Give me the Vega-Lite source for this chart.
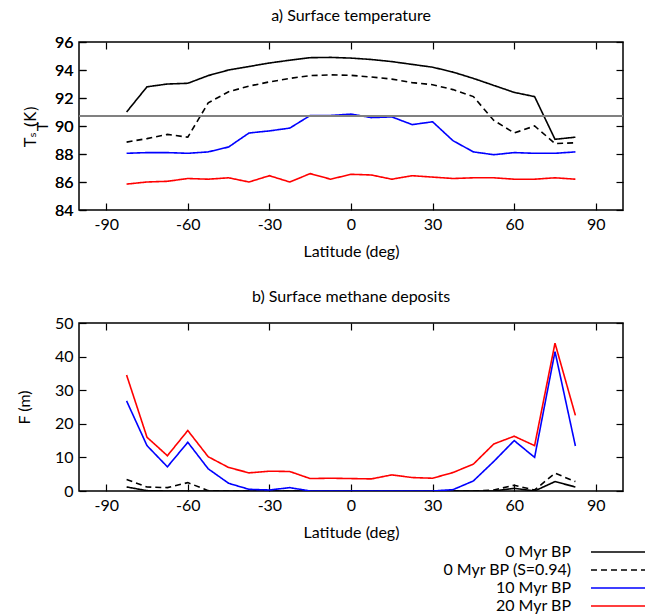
{
  "$schema": "https://vega.github.io/schema/vega-lite/v6.json",
  "background": "white",
  "padding": {"left": 15, "top": 7, "right": 0, "bottom": 0},
  "config": {
    "font": "Lato",
    "view": {"stroke": "black", "strokeWidth": 1.5},
    "axis": {"grid": false, "domain": false, "tickSize": -7, "tickColor": "black", "tickWidth": 1.2, "labelFontSize": 16, "labelColor": "black", "titleFontSize": 16, "titleFontWeight": "normal", "titleColor": "black", "labelPadding": 13, "labelExpr": "toString(datum.value)"},
    "title": {"fontSize": 16, "fontWeight": "normal", "anchor": "middle", "offset": 10},
    "legend": {"labelFont": "Lato"}
  },
  "resolve": {"legend": {"color": "independent", "strokeDash": "independent"}},
  "datasets": {
    "d": [
      {"lat": -82.5, "series": "0 Myr BP", "T": 91.0, "F": 1.2},
      {"lat": -75, "series": "0 Myr BP", "T": 92.8, "F": 0.1},
      {"lat": -67.5, "series": "0 Myr BP", "T": 93.0, "F": 0.0},
      {"lat": -60, "series": "0 Myr BP", "T": 93.05, "F": 0.0},
      {"lat": -52.5, "series": "0 Myr BP", "T": 93.6, "F": 0.0},
      {"lat": -45, "series": "0 Myr BP", "T": 94.0, "F": 0.0},
      {"lat": -37.5, "series": "0 Myr BP", "T": 94.25, "F": 0.0},
      {"lat": -30, "series": "0 Myr BP", "T": 94.5, "F": 0.0},
      {"lat": -22.5, "series": "0 Myr BP", "T": 94.7, "F": 0.0},
      {"lat": -15, "series": "0 Myr BP", "T": 94.88, "F": 0.0},
      {"lat": -7.5, "series": "0 Myr BP", "T": 94.9, "F": 0.0},
      {"lat": 0, "series": "0 Myr BP", "T": 94.85, "F": 0.0},
      {"lat": 7.5, "series": "0 Myr BP", "T": 94.75, "F": 0.0},
      {"lat": 15, "series": "0 Myr BP", "T": 94.6, "F": 0.0},
      {"lat": 22.5, "series": "0 Myr BP", "T": 94.4, "F": 0.0},
      {"lat": 30, "series": "0 Myr BP", "T": 94.2, "F": 0.0},
      {"lat": 37.5, "series": "0 Myr BP", "T": 93.85, "F": 0.0},
      {"lat": 45, "series": "0 Myr BP", "T": 93.4, "F": 0.0},
      {"lat": 52.5, "series": "0 Myr BP", "T": 92.9, "F": 0.0},
      {"lat": 60, "series": "0 Myr BP", "T": 92.4, "F": 0.8},
      {"lat": 67.5, "series": "0 Myr BP", "T": 92.1, "F": 0.0},
      {"lat": 75, "series": "0 Myr BP", "T": 89.05, "F": 2.8},
      {"lat": 82.5, "series": "0 Myr BP", "T": 89.2, "F": 1.2},
      {"lat": -82.5, "series": "0 Myr BP (S=0.94)", "T": 88.85, "F": 3.4},
      {"lat": -75, "series": "0 Myr BP (S=0.94)", "T": 89.1, "F": 1.2},
      {"lat": -67.5, "series": "0 Myr BP (S=0.94)", "T": 89.4, "F": 1.0},
      {"lat": -60, "series": "0 Myr BP (S=0.94)", "T": 89.2, "F": 2.5},
      {"lat": -52.5, "series": "0 Myr BP (S=0.94)", "T": 91.65, "F": 0.1},
      {"lat": -45, "series": "0 Myr BP (S=0.94)", "T": 92.45, "F": 0.0},
      {"lat": -37.5, "series": "0 Myr BP (S=0.94)", "T": 92.85, "F": 0.0},
      {"lat": -30, "series": "0 Myr BP (S=0.94)", "T": 93.15, "F": 0.0},
      {"lat": -22.5, "series": "0 Myr BP (S=0.94)", "T": 93.4, "F": 0.0},
      {"lat": -15, "series": "0 Myr BP (S=0.94)", "T": 93.6, "F": 0.0},
      {"lat": -7.5, "series": "0 Myr BP (S=0.94)", "T": 93.65, "F": 0.0},
      {"lat": 0, "series": "0 Myr BP (S=0.94)", "T": 93.62, "F": 0.0},
      {"lat": 7.5, "series": "0 Myr BP (S=0.94)", "T": 93.5, "F": 0.0},
      {"lat": 15, "series": "0 Myr BP (S=0.94)", "T": 93.35, "F": 0.0},
      {"lat": 22.5, "series": "0 Myr BP (S=0.94)", "T": 93.1, "F": 0.0},
      {"lat": 30, "series": "0 Myr BP (S=0.94)", "T": 92.95, "F": 0.0},
      {"lat": 37.5, "series": "0 Myr BP (S=0.94)", "T": 92.6, "F": 0.0},
      {"lat": 45, "series": "0 Myr BP (S=0.94)", "T": 92.1, "F": 0.0},
      {"lat": 52.5, "series": "0 Myr BP (S=0.94)", "T": 90.4, "F": 0.3},
      {"lat": 60, "series": "0 Myr BP (S=0.94)", "T": 89.5, "F": 1.7},
      {"lat": 67.5, "series": "0 Myr BP (S=0.94)", "T": 90.0, "F": 0.3},
      {"lat": 75, "series": "0 Myr BP (S=0.94)", "T": 88.75, "F": 5.3},
      {"lat": 82.5, "series": "0 Myr BP (S=0.94)", "T": 88.8, "F": 2.8},
      {"lat": -82.5, "series": "10 Myr BP", "T": 88.05, "F": 26.8},
      {"lat": -75, "series": "10 Myr BP", "T": 88.1, "F": 13.5},
      {"lat": -67.5, "series": "10 Myr BP", "T": 88.1, "F": 7.2},
      {"lat": -60, "series": "10 Myr BP", "T": 88.05, "F": 14.5},
      {"lat": -52.5, "series": "10 Myr BP", "T": 88.15, "F": 6.6},
      {"lat": -45, "series": "10 Myr BP", "T": 88.5, "F": 2.3},
      {"lat": -37.5, "series": "10 Myr BP", "T": 89.5, "F": 0.5},
      {"lat": -30, "series": "10 Myr BP", "T": 89.65, "F": 0.3},
      {"lat": -22.5, "series": "10 Myr BP", "T": 89.85, "F": 1.0},
      {"lat": -15, "series": "10 Myr BP", "T": 90.75, "F": 0.0},
      {"lat": -7.5, "series": "10 Myr BP", "T": 90.75, "F": 0.0},
      {"lat": 0, "series": "10 Myr BP", "T": 90.85, "F": 0.0},
      {"lat": 7.5, "series": "10 Myr BP", "T": 90.6, "F": 0.0},
      {"lat": 15, "series": "10 Myr BP", "T": 90.65, "F": 0.0},
      {"lat": 22.5, "series": "10 Myr BP", "T": 90.1, "F": 0.0},
      {"lat": 30, "series": "10 Myr BP", "T": 90.3, "F": 0.0},
      {"lat": 37.5, "series": "10 Myr BP", "T": 88.95, "F": 0.4},
      {"lat": 45, "series": "10 Myr BP", "T": 88.15, "F": 3.0},
      {"lat": 52.5, "series": "10 Myr BP", "T": 87.95, "F": 8.8},
      {"lat": 60, "series": "10 Myr BP", "T": 88.1, "F": 15.0},
      {"lat": 67.5, "series": "10 Myr BP", "T": 88.05, "F": 10.0},
      {"lat": 75, "series": "10 Myr BP", "T": 88.05, "F": 41.5},
      {"lat": 82.5, "series": "10 Myr BP", "T": 88.15, "F": 13.4},
      {"lat": -82.5, "series": "20 Myr BP", "T": 85.85, "F": 34.5},
      {"lat": -75, "series": "20 Myr BP", "T": 86.0, "F": 16.0},
      {"lat": -67.5, "series": "20 Myr BP", "T": 86.05, "F": 10.5},
      {"lat": -60, "series": "20 Myr BP", "T": 86.25, "F": 18.0},
      {"lat": -52.5, "series": "20 Myr BP", "T": 86.2, "F": 10.2},
      {"lat": -45, "series": "20 Myr BP", "T": 86.3, "F": 7.0},
      {"lat": -37.5, "series": "20 Myr BP", "T": 86.0, "F": 5.4},
      {"lat": -30, "series": "20 Myr BP", "T": 86.45, "F": 5.9},
      {"lat": -22.5, "series": "20 Myr BP", "T": 86.0, "F": 5.8},
      {"lat": -15, "series": "20 Myr BP", "T": 86.6, "F": 3.7},
      {"lat": -7.5, "series": "20 Myr BP", "T": 86.2, "F": 3.8},
      {"lat": 0, "series": "20 Myr BP", "T": 86.55, "F": 3.7},
      {"lat": 7.5, "series": "20 Myr BP", "T": 86.5, "F": 3.6},
      {"lat": 15, "series": "20 Myr BP", "T": 86.2, "F": 4.8},
      {"lat": 22.5, "series": "20 Myr BP", "T": 86.45, "F": 4.0},
      {"lat": 30, "series": "20 Myr BP", "T": 86.35, "F": 3.8},
      {"lat": 37.5, "series": "20 Myr BP", "T": 86.25, "F": 5.5},
      {"lat": 45, "series": "20 Myr BP", "T": 86.3, "F": 8.0},
      {"lat": 52.5, "series": "20 Myr BP", "T": 86.3, "F": 14.0},
      {"lat": 60, "series": "20 Myr BP", "T": 86.2, "F": 16.3},
      {"lat": 67.5, "series": "20 Myr BP", "T": 86.2, "F": 13.5},
      {"lat": 75, "series": "20 Myr BP", "T": 86.3, "F": 44.0},
      {"lat": 82.5, "series": "20 Myr BP", "T": 86.2, "F": 22.5}
    ]
  },
  "spacing": 28,
  "vconcat": [
    {
      "width": 544,
      "height": 168,
      "title": "a) Surface temperature",
      "data": {"name": "d"},
      "layer": [
        {
          "mark": {"type": "line", "strokeWidth": 1.6, "clip": true},
          "encoding": {
            "x": {"field": "lat", "type": "quantitative", "scale": {"domain": [-90, 90]}, "axis": {"values": [-90, -60, -30, 0, 30, 60, 90], "title": "Latitude (deg)", "titlePadding": 11}},
            "y": {"field": "T", "type": "quantitative", "scale": {"domain": [84, 96], "zero": false}, "axis": {"values": [84, 86, 88, 90, 92, 94, 96], "title": "Tₛ   (K)", "titleFont": "DejaVu Sans", "titleFontSize": 15, "titlePadding": 16}},
            "color": {"field": "series", "type": "nominal", "scale": {"domain": ["0 Myr BP", "0 Myr BP (S=0.94)", "10 Myr BP", "20 Myr BP"], "range": ["black", "black", "blue", "red"]}, "legend": null},
            "strokeDash": {"field": "series", "type": "nominal", "scale": {"domain": ["0 Myr BP", "0 Myr BP (S=0.94)", "10 Myr BP", "20 Myr BP"], "range": [[1, 0], [6, 4], [1, 0], [1, 0]]}, "legend": null}
          }
        },
        {
          "mark": {"type": "rule", "color": "#808080", "strokeWidth": 1.5},
          "encoding": {
            "y": {"datum": 90.7, "type": "quantitative", "axis": {"orient": "right", "values": [84, 86, 88, 90, 92, 94, 96], "labels": false, "title": null}}
          }
        },
        {
          "mark": {"type": "point", "opacity": 0},
          "encoding": {
            "x": {"field": "lat", "type": "quantitative", "axis": {"orient": "top", "values": [-90, -60, -30, 0, 30, 60, 90], "labels": false, "title": null}},
            "y": {"field": "T", "type": "quantitative"}
          }
        }
      ],
      "resolve": {"axis": {"x": "independent", "y": "independent"}}
    },
    {
      "width": 544,
      "height": 168,
      "title": "b) Surface methane deposits",
      "data": {"name": "d"},
      "layer": [
        {
          "mark": {"type": "line", "strokeWidth": 1.6, "clip": true},
          "encoding": {
            "x": {"field": "lat", "type": "quantitative", "scale": {"domain": [-90, 90]}, "axis": {"values": [-90, -60, -30, 0, 30, 60, 90], "title": "Latitude (deg)", "titlePadding": 11}},
            "y": {"field": "F", "type": "quantitative", "scale": {"domain": [0, 50]}, "axis": {"values": [0, 10, 20, 30, 40, 50], "title": "F (m)", "titlePadding": 22}},
            "color": {"field": "series", "type": "nominal", "scale": {"domain": ["0 Myr BP", "0 Myr BP (S=0.94)", "10 Myr BP", "20 Myr BP"], "range": ["black", "black", "blue", "red"]},
              "legend": {"title": null, "orient": "none", "legendX": 529, "legendY": 219, "symbolType": "M-3,0H3", "symbolSize": 324, "symbolStrokeWidth": 1.6, "labelAlign": "right", "labelOffset": -57, "labelFontSize": 16, "labelColor": "black", "rowPadding": 0}},
            "strokeDash": {"field": "series", "type": "nominal", "scale": {"domain": ["0 Myr BP", "0 Myr BP (S=0.94)", "10 Myr BP", "20 Myr BP"], "range": [[1, 0], [6, 4], [1, 0], [1, 0]]},
              "legend": {"title": null, "orient": "none", "legendX": 529, "legendY": 219, "symbolType": "M-3,0H3", "symbolSize": 324, "symbolStrokeWidth": 1.6, "labelAlign": "right", "labelOffset": -57, "labelFontSize": 16, "labelColor": "black", "rowPadding": 0}}
          }
        },
        {
          "mark": {"type": "point", "opacity": 0},
          "encoding": {
            "x": {"field": "lat", "type": "quantitative", "axis": {"orient": "top", "values": [-90, -60, -30, 0, 30, 60, 90], "labels": false, "title": null}},
            "y": {"field": "F", "type": "quantitative", "axis": {"orient": "right", "values": [0, 10, 20, 30, 40, 50], "labels": false, "title": null}}
          }
        }
      ],
      "resolve": {"axis": {"x": "independent", "y": "independent"}}
    }
  ]
}
